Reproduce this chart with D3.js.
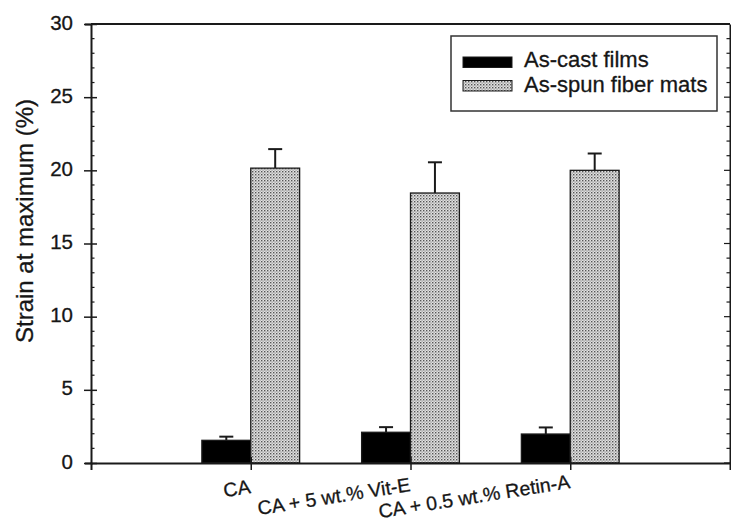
<!DOCTYPE html>
<html>
<head>
<meta charset="utf-8">
<script src="https://cdn.jsdelivr.net/npm/d3@7"></script>
<style>
  html, body { margin: 0; padding: 0; background: #fff; }
  svg { display: block; font-family: "Liberation Sans", Arial, sans-serif; }
</style>
</head>
<body>
<svg id="chart" width="731" height="525"></svg>
<script>
// ---- data ----
const categories = ["CA", "CA + 5 wt.% Vit-E", "CA + 0.5 wt.% Retin-A"];
const seriesNames = ["As-cast films", "As-spun fiber mats"];
const castFilms = [1.55, 2.1, 1.98];
const castFilmsErr = [0.25, 0.35, 0.45];
const fiberMats = [20.15, 18.45, 20.0];
const fiberMatsErr = [1.3, 2.1, 1.15];
const yTicks = [0, 5, 10, 15, 20, 25, 30];
const yMinorTicks = d3.range(0, 31, 1);

// ---- layout ----
const svg = d3.select("#chart");
const x = d3.scaleLinear().domain([0, 4]).range([91, 730]);
const y = d3.scaleLinear().domain([0, 30]).range([463, 24]);
const barW = x(0.306) - x(0);
const ink = "#1a1a1a";
const txt = "#161616";

// pattern for stippled bars
const defs = svg.append("defs");
const pat = defs.append("pattern").attr("id", "dots")
  .attr("patternUnits", "userSpaceOnUse").attr("width", 3).attr("height", 3);
pat.append("rect").attr("width", 3).attr("height", 3).attr("fill", "#e2e2e2");
pat.append("rect").attr("x", 0).attr("y", 0).attr("width", 1.4).attr("height", 1.4).attr("fill", "#555");
pat.append("rect").attr("x", 1.5).attr("y", 1.5).attr("width", 1.2).attr("height", 1.2).attr("fill", "#8a8a8a");

const series = [
  { name: seriesNames[0], vals: castFilms, errs: castFilmsErr, fill: "#000", off: -1 },
  { name: seriesNames[1], vals: fiberMats, errs: fiberMatsErr, fill: "url(#dots)", off: 0 }
];

// bars + error bars
series.forEach(s => {
  const g = svg.append("g");
  categories.forEach((c, i) => {
    const cx = x(i + 1);
    const left = cx + s.off * barW;
    const mid = left + barW / 2;
    g.append("line").attr("x1", mid).attr("x2", mid)
      .attr("y1", y(s.vals[i])).attr("y2", y(s.vals[i] + s.errs[i]))
      .attr("stroke", ink).attr("stroke-width", 2);
    g.append("line").attr("x1", mid - 7).attr("x2", mid + 7)
      .attr("y1", y(s.vals[i] + s.errs[i])).attr("y2", y(s.vals[i] + s.errs[i]))
      .attr("stroke", ink).attr("stroke-width", 2);
    g.append("rect").attr("x", left).attr("y", y(s.vals[i]))
      .attr("width", barW).attr("height", y(0) - y(s.vals[i]))
      .attr("fill", s.fill).attr("stroke", ink).attr("stroke-width", 1.3);
  });
});

// frame
svg.append("line").attr("x1", x(0)).attr("x2", x(4)).attr("y1", y(30)).attr("y2", y(30))
  .attr("stroke", ink).attr("stroke-width", 2);

// left axis
const leftAxis = d3.axisLeft(y).tickValues(yTicks).tickSize(6).tickPadding(12).tickFormat(d3.format("d"));
const gl = svg.append("g").attr("transform", `translate(${x(0)},0)`).call(leftAxis);
gl.select(".domain").attr("stroke", ink).attr("stroke-width", 2);
gl.selectAll(".tick line").attr("stroke", ink).attr("stroke-width", 1.5).attr("x2", -7).attr("x1", 6);
gl.selectAll(".tick text").attr("font-size", 20.5).attr("fill", txt).attr("dy", "0.25em")
  .attr("stroke", txt).attr("stroke-width", 0.3);
svg.append("g").selectAll("line").data(yMinorTicks.filter(v => v % 5 !== 0)).join("line")
  .attr("x1", x(0)).attr("x2", x(0) + 3.5).attr("y1", d => y(d)).attr("y2", d => y(d))
  .attr("stroke", ink).attr("stroke-width", 1.2);

// right axis
const rightAxis = d3.axisRight(y).tickValues(yTicks).tickSize(0).tickFormat("");
const gr = svg.append("g").attr("transform", `translate(${x(4)},0)`).call(rightAxis);
gr.select(".domain").attr("stroke", ink).attr("stroke-width", 2);
svg.append("g").selectAll("line").data(yMinorTicks).join("line")
  .attr("x1", x(4)).attr("x2", d => x(4) - (d % 5 === 0 ? 6 : 3.5)).attr("y1", d => y(d)).attr("y2", d => y(d))
  .attr("stroke", ink).attr("stroke-width", 1.2);

// bottom axis
const bottomAxis = d3.axisBottom(x).tickValues([1, 2, 3]).tickSize(7).tickFormat(d => categories[d - 1]);
const gb = svg.append("g").attr("transform", `translate(0,${y(0)})`).call(bottomAxis);
gb.select(".domain").attr("stroke", ink).attr("stroke-width", 2);
gb.selectAll(".tick line").attr("stroke", ink).attr("stroke-width", 1.5).attr("y1", -6);
const labelDrop = [30, 28, 25];
gb.selectAll(".tick text")
  .attr("font-size", 19.5).attr("fill", txt).attr("stroke", txt).attr("stroke-width", 0.3)
  .attr("text-anchor", "end").attr("dy", 0)
  .attr("y", (d, i) => labelDrop[i])
  .attr("transform", (d, i) => `rotate(-9,0,${labelDrop[i]})`);

// y label
svg.append("text").attr("transform", "translate(33,221) rotate(-90)")
  .attr("text-anchor", "middle").attr("font-size", 24).attr("fill", txt)
  .attr("stroke", txt).attr("stroke-width", 0.3)
  .text("Strain at maximum (%)");

// legend
const lg = svg.append("g");
lg.append("rect").attr("x", 451).attr("y", 36).attr("width", 266).attr("height", 75)
  .attr("fill", "#fff").attr("stroke", "#333").attr("stroke-width", 1.5);
series.forEach((s, i) => {
  lg.append("rect").attr("x", 463).attr("y", 57 + i * 23.5).attr("width", 49).attr("height", 10.5)
    .attr("fill", s.fill).attr("stroke", ink).attr("stroke-width", 1);
  lg.append("text").attr("x", 524).attr("y", 67 + i * 25).attr("font-size", 22).attr("fill", txt)
    .attr("stroke", txt).attr("stroke-width", 0.3)
    .text(s.name);
});
</script>
</body>
</html>
